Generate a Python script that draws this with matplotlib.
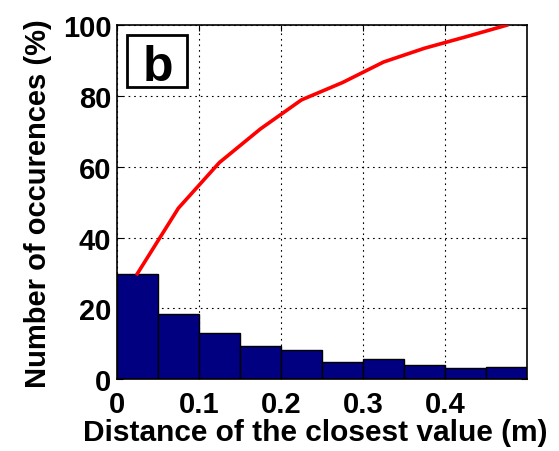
import numpy as np
import matplotlib
matplotlib.use("Agg")
import matplotlib.pyplot as plt
from matplotlib.patches import Rectangle

# histogram of distances to the closest value, 0.05 m bins
bin_edges = [0.0, 0.05, 0.10, 0.15, 0.20, 0.25, 0.30, 0.35, 0.40, 0.45, 0.50]
occurrences = [29.8, 18.5, 12.9, 9.5, 8.2, 4.9, 5.8, 3.9, 3.2, 3.3]
x_ticks = [0, 0.1, 0.2, 0.3, 0.4]
x_tick_labels = ["0", "0.1", "0.2", "0.3", "0.4"]
y_ticks = [0, 20, 40, 60, 80, 100]

plt.rcParams['font.family'] = ['Liberation Sans', 'DejaVu Sans']
plt.rcParams['font.weight'] = 'bold'

fig = plt.figure(figsize=(5.59, 4.52), dpi=100)
ax = fig.add_axes([0.209, 0.159, 0.734, 0.783])

edges = np.array(bin_edges)
widths = np.diff(edges)
centers = edges[:-1] + widths / 2
ax.bar(edges[:-1], occurrences, width=widths, align='edge',
       color='#000080', edgecolor='black', linewidth=1.0, zorder=2)

# cumulative percentage, scaled to reach 100
cum = np.cumsum(occurrences)
cum = cum / cum[-1] * 100
ax.plot(centers, cum, color='red', linewidth=2.6, zorder=3)

ax.set_xlim(0, 0.5)
ax.set_ylim(0, 100)
ax.set_xticks(x_ticks)
ax.set_xticklabels(x_tick_labels)
ax.set_yticks(y_ticks)
ax.tick_params(axis='both', labelsize=21, direction='in', length=4,
               top=True, right=True)
ax.tick_params(axis='x', pad=8)
ax.tick_params(axis='y', pad=4)
for lbl in ax.get_xticklabels() + ax.get_yticklabels():
    lbl.set_fontweight('bold')

ax.grid(True, color='black', linestyle=(0, (1.5, 3.5)), linewidth=0.8, zorder=1)
ax.set_axisbelow(True)
for sp in ax.spines.values():
    sp.set_linewidth(1.2)

ax.set_xlabel('Distance of the closest value (m)', fontsize=21.5,
              fontweight='bold', labelpad=0)
ax.xaxis.label.set_x(0.484)
ax.set_ylabel('Number of occurences (%)', fontsize=21,
              fontweight='bold', labelpad=8)

# panel letter in a boxed inset
ax.add_patch(Rectangle((0.025, 0.825), 0.145, 0.147, transform=ax.transAxes,
                       facecolor='white', edgecolor='black', linewidth=2,
                       zorder=5))
ax.text(0.1, 0.845, 'b', transform=ax.transAxes, fontsize=36,
        fontweight='bold', ha='center', va='baseline', zorder=6)

fig.savefig('out.png', dpi=100)
